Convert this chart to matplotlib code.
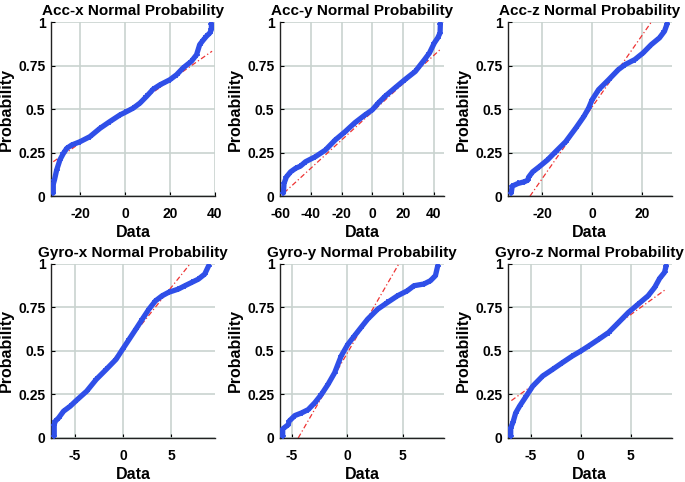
import matplotlib
matplotlib.use("Agg")
import matplotlib.pyplot as plt

titles = ["Acc-x Normal Probability", "Acc-y Normal Probability", "Acc-z Normal Probability",
          "Gyro-x Normal Probability", "Gyro-y Normal Probability", "Gyro-z Normal Probability"]

accx_x = [-31.9, -31.9, -31.4, -30.4, -28.9, -27.4, -25.9, -23.7, -20.0, -15.6, -11.1, -6.7, -2.2, 0.0,
          3.7, 6.7, 9.6, 12.6, 15.6, 20.0, 23.0, 25.9, 29.6, 31.9, 33.3, 34.8, 36.3, 37.8, 38.5, 38.5]
accx_p = [0.019, 0.069, 0.092, 0.15, 0.21, 0.246, 0.275, 0.294, 0.313, 0.342, 0.39, 0.429, 0.467, 0.481,
          0.506, 0.535, 0.573, 0.615, 0.64, 0.669, 0.698, 0.737, 0.775, 0.813, 0.871, 0.896, 0.919, 0.938, 0.958, 0.992]

accy_x = [-57.8, -57.4, -55.9, -53.1, -49.9, -46.7, -43.4, -37.0, -30.5, -24.1, -17.6, -11.2, -4.7, 0.0,
          3.9, 8.2, 14.6, 21.1, 28.0, 34.0, 37.2, 40.4, 42.6, 44.1, 44.3]
accy_p = [0.019, 0.073, 0.11, 0.14, 0.16, 0.173, 0.198, 0.227, 0.265, 0.323, 0.371, 0.423, 0.467, 0.496,
          0.535, 0.573, 0.621, 0.669, 0.717, 0.785, 0.823, 0.881, 0.91, 0.938, 0.992]

accz_x = [-32.5, -32.1, -29.8, -27.2, -25.9, -25.5, -23.9, -21.3, -18.0, -14.7, -10.7, -6.7, -3.4, -1.5,
          -0.1, 2.5, 6.5, 10.4, 13.1, 17.0, 20.3, 23.6, 26.9, 28.9, 30.0]
accz_p = [0.019, 0.058, 0.073, 0.083, 0.092, 0.11, 0.14, 0.169, 0.208, 0.256, 0.313, 0.39, 0.458, 0.506,
          0.554, 0.612, 0.669, 0.727, 0.756, 0.785, 0.823, 0.871, 0.91, 0.948, 0.992]

gyrx_x = [-7.17, -7.17, -7.06, -6.72, -6.2, -5.5, -4.85, -3.8, -2.8, -1.77, -0.75, -0.07, 0.61, 1.3,
          1.98, 2.66, 3.34, 4.03, 4.7, 5.73, 6.4, 7.1, 7.8, 8.46, 8.87]
gyrx_p = [0.013, 0.077, 0.096, 0.115, 0.154, 0.183, 0.217, 0.269, 0.337, 0.394, 0.452, 0.51, 0.567, 0.625,
          0.683, 0.74, 0.788, 0.817, 0.837, 0.856, 0.875, 0.894, 0.913, 0.942, 0.99]

gyry_x = [-5.82, -5.82, -5.31, -5.25, -4.72, -4.12, -3.52, -2.93, -2.33, -1.73, -1.13, -0.54, 0.06, 0.66,
          1.25, 1.85, 2.75, 3.64, 4.54, 5.43, 6.03, 6.93, 7.52, 7.97, 8.18]
gyry_p = [0.01, 0.052, 0.077, 0.096, 0.129, 0.144, 0.163, 0.202, 0.25, 0.308, 0.375, 0.471, 0.538, 0.587,
          0.635, 0.683, 0.74, 0.779, 0.817, 0.846, 0.875, 0.885, 0.904, 0.933, 0.99]

gyrz_x = [-7.03, -7.03, -6.8, -6.53, -6.14, -5.48, -4.82, -3.83, -2.84, -1.85, -0.86, 0.0, 0.79, 1.78,
          2.77, 3.76, 4.75, 5.74, 6.73, 7.39, 7.89, 8.38, 8.55]
gyrz_p = [0.01, 0.058, 0.09, 0.144, 0.183, 0.24, 0.298, 0.356, 0.394, 0.433, 0.471, 0.5, 0.529, 0.567,
          0.606, 0.663, 0.721, 0.769, 0.817, 0.865, 0.917, 0.952, 0.99]

# reference lines (two endpoints each)
ref_x = [[-31.9, 38.8], [-57.4, 44.1], [-25.0, 23.6], [-2.5, 6.93], [-4.42, 4.66], [-6.96, 8.55]]
ref_p = [[0.198, 0.833], [0.019, 0.842], [0.0, 1.0], [0.349, 1.0], [0.0, 1.0], [0.215, 0.856]]

xlims = [(-32.9, 39.6), (-59.6, 46.5), (-33.8, 31.8), (-7.5, 9.5), (-6.06, 8.72), (-7.3, 9.1)]
xticks = [[-20, 0, 20, 40], [-60, -40, -20, 0, 20, 40], [-20, 0, 20], [-5, 0, 5], [-5, 0, 5], [-5, 0, 5]]
yticks = [0, 0.25, 0.5, 0.75, 1]
ytick_labels = ["0", "0.25", "0.5", "0.75", "1"]

series_x = [accx_x, accy_x, accz_x, gyrx_x, gyry_x, gyrz_x]
series_p = [accx_p, accy_p, accz_p, gyrx_p, gyry_p, gyrz_p]

plt.rcParams['font.family'] = ['Liberation Sans', 'DejaVu Sans']
plt.rcParams['font.weight'] = 'bold'
plt.rcParams['axes.unicode_minus'] = False

fig = plt.figure(figsize=(6.85, 4.82), dpi=100)
lefts = [0.0745, 0.4088, 0.7416]
bottoms = [0.593, 0.0913]
w, h = 0.239, 0.361
blue = "#2f4fe8"
grid_c = "#c9d3cf"

for i in range(6):
    r, c = divmod(i, 3)
    ax = fig.add_axes([lefts[c], bottoms[r], w, h])
    ax.plot(ref_x[i], ref_p[i], color="#ee3333", linestyle=(0, (4, 2, 1, 2)), linewidth=0.9, zorder=2)
    ax.plot(series_x[i], series_p[i], color=blue, linewidth=3.8, solid_capstyle='round',
            solid_joinstyle='round', zorder=3)
    ax.plot(series_x[i], series_p[i], linestyle='none', marker='+', markersize=5, markeredgewidth=1.2,
            color=blue, zorder=4)
    ax.set_xlim(*xlims[i])
    ax.set_ylim(0, 1)
    ax.set_xticks(xticks[i])
    ax.set_yticks(yticks)
    ax.set_yticklabels(ytick_labels)
    ax.grid(True, color=grid_c, linewidth=1.2)
    ax.set_axisbelow(True)
    for s in ['top', 'right']:
        ax.spines[s].set_visible(False)
    for s in ['left', 'bottom']:
        ax.spines[s].set_color('#222222')
        ax.spines[s].set_linewidth(1.0)
    ax.tick_params(direction='in', length=3, labelsize=10, pad=4)
    ax.tick_params(axis='x', pad=8)
    for lab in ax.get_xticklabels() + ax.get_yticklabels():
        lab.set_fontweight('bold')
    ax.set_title(titles[i], fontsize=11, fontweight='bold', pad=5)
    ax.set_xlabel("Data", fontsize=11.5, fontweight='bold', labelpad=3)
    ax.set_ylabel("Probability", fontsize=11.5, fontweight='bold', labelpad=3)

fig.savefig("out.png", dpi=100)
